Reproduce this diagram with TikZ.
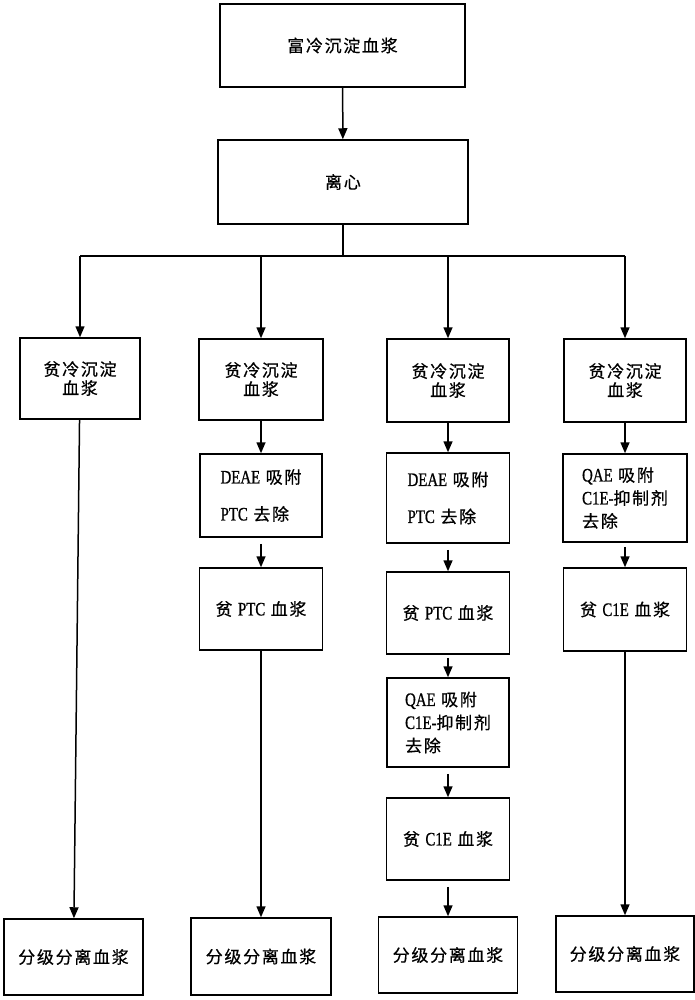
\documentclass[tikz,border=0pt]{standalone}
\usepackage{fontspec}
\setmainfont{Noto Sans CJK SC}[LetterSpace=10,FakeBold=0.6]
\newfontfamily\lat[FakeStretch=0.78,Scale=1.12,FakeBold=0.8]{Liberation Serif}
\usetikzlibrary{arrows.meta}
\begin{document}
\begin{tikzpicture}[
        x=1pt, y=-1pt,
        every node/.style={draw, line width=1.5pt, inner sep=2pt, align=center, font=\fontsize{17}{19}\selectfont},
        wh/.style 2 args={minimum width=#1pt, minimum height=#2pt},
        lefttext/.style={align=left},
        line/.style={draw, line width=1.5pt},
        arr/.style={line, -{Triangle[length=11pt,width=9pt]}},
        gap/.style={shorten <=6pt},
    ]
    \useasboundingbox (0,0) rectangle (695,1000);
    \node[wh={245}{83}] (top) at (342.5,45.5) {富冷沉淀血浆};
    \node[wh={250}{84}] (cen) at (343,182) {离心};
    \coordinate (sp) at (343,256);
    \coordinate (j1) at (80,256);
    \coordinate (j2) at (261,256);
    \coordinate (j3) at (448,256);
    \coordinate (j4) at (625,256);

    \node[wh={120}{81}] (p1) at (80,378.5) {贫冷沉淀\\血浆};
    \node[wh={124}{81}] (p2) at (261,379.5) {贫冷沉淀\\血浆};
    \node[wh={122}{83}] (p3) at (448,380.5) {贫冷沉淀\\血浆};
    \node[wh={122}{83}] (p4) at (625,380.5) {贫冷沉淀\\血浆};

    \node[wh={122}{83}, lefttext] (d2) at (261,495.5) {{\lat DEAE} 吸附\\[18pt]{\lat PTC} 去除};
    \node[wh={123}{82}] (t2) at (261,609) {贫 {\lat PTC} 血浆};

    \node[wh={123}{90}, lefttext] (d3) at (448,498) {{\lat DEAE} 吸附\\[18pt]{\lat PTC} 去除};
    \node[wh={123}{82}] (t3) at (448,613) {贫 {\lat PTC} 血浆};
    \node[wh={122}{89}, lefttext] (q3) at (448,722.5) {{\lat QAE} 吸附\\[4pt]{\lat C1E-}抑制剂\\[4pt]去除};
    \node[wh={123}{82}] (c3) at (448,839) {贫 {\lat C1E} 血浆};

    \node[wh={124}{88}, lefttext] (q4) at (625,498) {{\lat QAE} 吸附\\[4pt]{\lat C1E-}抑制剂\\[4pt]去除};
    \node[wh={123}{83}] (c4) at (625,609.5) {贫 {\lat C1E} 血浆};

    \node[wh={139}{76}] (f1) at (73.5,957) {分级分离血浆};
    \node[wh={140}{77}] (f2) at (261,956.5) {分级分离血浆};
    \node[wh={139}{76}] (f3) at (448,955) {分级分离血浆};
    \node[wh={138}{76}] (f4) at (625,954) {分级分离血浆};

    \draw[arr] (top) -- (cen);
    \draw[line] (cen) -- (sp);
    \draw[line] (j1) -- (j4);
    \foreach \i in {1,...,4}
        \draw[arr] (j\i) -- (p\i);
    \draw[arr] (p1) -- (f1);
    \draw[arr] (p2) -- (d2);
    \draw[arr, gap] (d2) -- (t2);
    \draw[arr] (t2) -- (f2);
    \draw[arr] (p3) -- (d3);
    \draw[arr, gap] (d3) -- (t3);
    \draw[arr, shorten <=3pt] (t3) -- (q3);
    \draw[arr, gap] (q3) -- (c3);
    \draw[arr, gap] (c3) -- (f3);
    \draw[arr] (p4) -- (q4);
    \draw[arr, shorten <=4pt] (q4) -- (c4);
    \draw[arr] (c4) -- (f4);
\end{tikzpicture}
\end{document}
